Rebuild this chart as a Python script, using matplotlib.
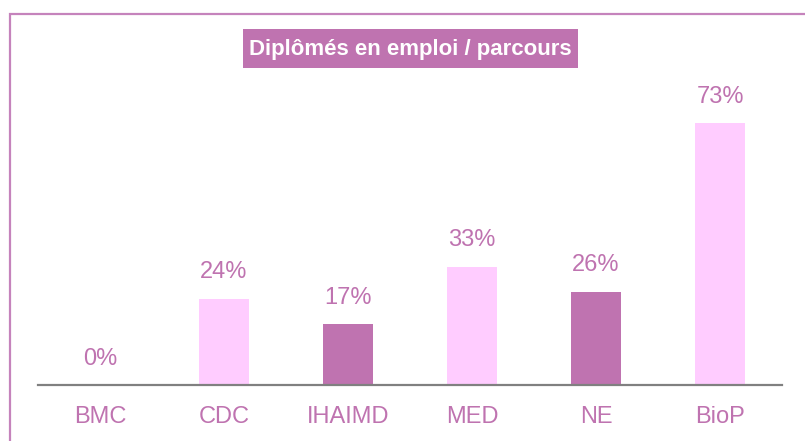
import matplotlib.pyplot as plt
from matplotlib.patches import Rectangle
import numpy as np

categories = ['BMC', 'CDC', 'IHAIMD', 'MED', 'NE', 'BioP']
values = [0, 24, 17, 33, 26, 73]
labels = ['0%', '24%', '17%', '33%', '26%', '73%']

light = '#FFCCFF'
dark = '#BF73B0'
colors = [light, light, dark, light, dark, light]
font = ['Liberation Sans', 'DejaVu Sans']

W, H = 805, 441
fig = plt.figure(figsize=(W / 100, H / 100), dpi=100)
ax = fig.add_axes([38 / W, 1 - 385 / H, 744 / W, 287 / H])

x = np.arange(len(categories))
ax.bar(x, values, width=0.4, color=colors)
for xi, v, lab in zip(x, values, labels):
    ax.text(xi, v + 4.3, lab, ha='center', va='bottom', fontsize=17,
            color=dark, family=font)

ax.set_xlim(-0.5, 5.5)
ax.set_ylim(0, 80)
ax.set_yticks([])
ax.set_xticks(x)
ax.set_xticklabels(categories, fontsize=17, color=dark, family=font)
ax.tick_params(axis='x', length=0, pad=15)
for s in ['top', 'right', 'left']:
    ax.spines[s].set_visible(False)
ax.spines['bottom'].set_color('#808080')
ax.spines['bottom'].set_linewidth(1.6)

# title box
fig.patches.append(Rectangle((243 / W, 1 - 68 / H), 335 / W, 39 / H,
                             transform=fig.transFigure, facecolor=dark,
                             edgecolor='none'))
fig.text(410.5 / W, 1 - 49 / H, 'Diplômés en emploi / parcours',
         ha='center', va='center', fontsize=16, fontweight='bold',
         color='white', family=font)

# outer frame
fig.patches.append(Rectangle((9.5 / W, -0.1), 1.0, 1 - 13.5 / H + 0.1,
                             transform=fig.transFigure, fill=False,
                             edgecolor='#C583BC', linewidth=1.6))

plt.savefig('out.png', dpi=100)
